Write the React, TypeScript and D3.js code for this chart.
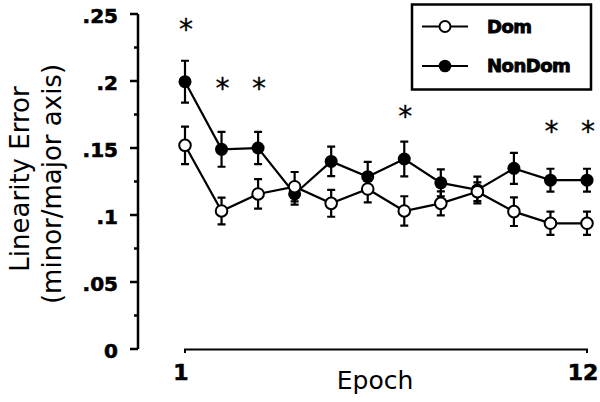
import { useRef, useEffect } from "react";
import * as d3 from "d3";

// values
const epochs = [1, 2, 3, 4, 5, 6, 7, 8, 9, 10, 11, 12];
const domMean = [0.152, 0.103, 0.1157, 0.1211, 0.1087, 0.1194, 0.103, 0.1087, 0.1174, 0.1025, 0.0938, 0.0938];
const domErr = [0.014, 0.01, 0.011, 0.011, 0.01, 0.01, 0.011, 0.009, 0.007, 0.0107, 0.0087, 0.0087];
const nonDomMean = [0.1995, 0.149, 0.15, 0.1157, 0.14, 0.1286, 0.1418, 0.124, 0.1187, 0.1348, 0.126, 0.126];
const nonDomErr = [0.0156, 0.013, 0.012, 0.008, 0.011, 0.011, 0.013, 0.01, 0.01, 0.0115, 0.0085, 0.0085];
const starEpochs = [1, 2, 3, 7, 11, 12];
const starLevels = [0.243, 0.199, 0.199, 0.178, 0.167, 0.167];
const yTicks = [0, 0.05, 0.1, 0.15, 0.2, 0.25];
const yTickLabels = ["0", ".05", ".1", ".15", ".2", ".25"];
const yMinorTicks = [0.025, 0.075, 0.125, 0.175, 0.225];
const xTickLabels = ["1", "12"];
const legendLabels = ["Dom", "NonDom"];

const sans = "'DejaVu Sans', Verdana, sans-serif";

export default function App() {
  const svgRef = useRef<SVGSVGElement>(null);

  useEffect(() => {
    const svg = d3.select(svgRef.current);
    svg.selectAll("*").remove();

    const width = 600;
    const height = 402;
    svg.attr("width", width).attr("height", height);

    const x = d3.scaleLinear().domain([1, 12]).range([185, 587]);
    const y = d3.scaleLinear().domain([0, 0.25]).range([349, 14]);
    const axisX = 138;

    // y axis
    svg
      .append("line")
      .attr("x1", axisX)
      .attr("x2", axisX)
      .attr("y1", y(0.25))
      .attr("y2", y(0))
      .attr("stroke", "#000")
      .attr("stroke-width", 2.5);

    svg
      .selectAll(".ytick")
      .data(yTicks)
      .join("line")
      .attr("x1", axisX - 8)
      .attr("x2", axisX)
      .attr("y1", (d) => y(d))
      .attr("y2", (d) => y(d))
      .attr("stroke", "#000")
      .attr("stroke-width", 2.5);

    svg
      .selectAll(".yminor")
      .data(yMinorTicks)
      .join("line")
      .attr("x1", axisX - 4)
      .attr("x2", axisX)
      .attr("y1", (d) => y(d))
      .attr("y2", (d) => y(d))
      .attr("stroke", "#000")
      .attr("stroke-width", 2.5);

    svg
      .selectAll(".ylabel")
      .data(yTicks)
      .join("text")
      .attr("x", 118)
      .attr("y", (d) => y(d) + 2)
      .attr("dy", "0.36em")
      .attr("text-anchor", "end")
      .style("font-family", sans)
      .attr("font-size", "20px")
      .attr("font-weight", "bold")
      .attr("stroke", "#000")
      .attr("stroke-width", 0.6)
      .text((_, i) => yTickLabels[i]);

    // y title
    const yTitle = svg
      .append("g")
      .attr("transform", `translate(0, 182) rotate(-90)`)
      .style("font-family", sans)
      .attr("font-size", "26px")
      .attr("text-anchor", "middle");
    yTitle.append("text").attr("x", 3).attr("y", 29).text("Linearity Error");
    yTitle.append("text").attr("x", -2).attr("y", 61).text("(minor/major axis)");

    // x axis
    svg
      .append("path")
      .attr("d", `M${x(1)},${353}V${349.5}H${x(12)}V${353}`)
      .attr("fill", "none")
      .attr("stroke", "#000")
      .attr("stroke-width", 2);

    svg
      .selectAll(".xlabel")
      .data([1, 12])
      .join("text")
      .attr("x", (d) => x(d) - 4)
      .attr("y", 380)
      .attr("text-anchor", "middle")
      .style("font-family", sans)
      .attr("font-size", "22px")
      .attr("font-weight", "bold")
      .attr("stroke", "#000")
      .attr("stroke-width", 0.6)
      .text((_, i) => xTickLabels[i]);

    svg
      .append("text")
      .attr("x", 375)
      .attr("y", 389)
      .attr("text-anchor", "middle")
      .style("font-family", sans)
      .attr("font-size", "25px")
      .text("Epoch");

    const line = d3
      .line<number>()
      .x((_, i) => x(epochs[i]))
      .y((d) => y(d));

    const drawSeries = (means: number[], errs: number[], filled: boolean) => {
      const g = svg.append("g");
      g.append("path")
        .attr("d", line(means))
        .attr("fill", "none")
        .attr("stroke", "#000")
        .attr("stroke-width", 2.2);

      const bars = g
        .selectAll(".err")
        .data(means)
        .join("g");
      bars
        .append("path")
        .attr("d", (d, i) => {
          const cx = x(epochs[i]);
          const top = y(d + errs[i]);
          const bot = y(d - errs[i]);
          return `M${cx - 4},${top}H${cx + 4}M${cx},${top}V${bot}M${cx - 4},${bot}H${cx + 4}`;
        })
        .attr("fill", "none")
        .attr("stroke", "#000")
        .attr("stroke-width", 2.2);

      g.selectAll("circle")
        .data(means)
        .join("circle")
        .attr("cx", (_, i) => x(epochs[i]))
        .attr("cy", (d) => y(d))
        .attr("r", filled ? 6.5 : 5.8)
        .attr("fill", filled ? "#000" : "#fff")
        .attr("stroke", "#000")
        .attr("stroke-width", filled ? 0 : 2);
    };

    drawSeries(nonDomMean, nonDomErr, true);
    drawSeries(domMean, domErr, false);

    // significance stars
    svg
      .selectAll(".star")
      .data(starEpochs)
      .join("text")
      .attr("x", (d) => x(d) + 1)
      .attr("y", (_, i) => y(starLevels[i]) + 16)
      .attr("text-anchor", "middle")
      .style("font-family", sans)
      .attr("font-size", "28px")
      .attr("stroke", "#000")
      .attr("stroke-width", 0.3)
      .text("*");

    // legend
    const legend = svg.append("g");
    legend
      .append("rect")
      .attr("x", 412)
      .attr("y", 4.5)
      .attr("width", 179)
      .attr("height", 85)
      .attr("fill", "#fff")
      .attr("stroke", "#000")
      .attr("stroke-width", 2.5);

    const rows = legend
      .selectAll(".row")
      .data(legendLabels)
      .join("g")
      .attr("transform", (_, i) => `translate(0, ${i === 0 ? 26.5 : 66})`);
    rows
      .append("line")
      .attr("x1", 422)
      .attr("x2", 468)
      .attr("stroke", "#000")
      .attr("stroke-width", 2.2);
    rows
      .append("circle")
      .attr("cx", 445)
      .attr("r", (_, i) => (i === 0 ? 5.5 : 6.3))
      .attr("fill", (_, i) => (i === 0 ? "#fff" : "#000"))
      .attr("stroke", "#000")
      .attr("stroke-width", (_, i) => (i === 0 ? 2 : 0));
    rows
      .append("text")
      .attr("x", 487)
      .attr("dy", "0.36em")
      .style("font-family", sans)
      .attr("font-size", "18px")
      .attr("font-weight", "bold")
      .attr("letter-spacing", "-0.5px")
      .attr("stroke", "#000")
      .attr("stroke-width", 0.9)
      .text((d) => d);
  }, []);

  return <svg ref={svgRef} style={{ position: "absolute", left: 0, top: 0 }} />;
}
